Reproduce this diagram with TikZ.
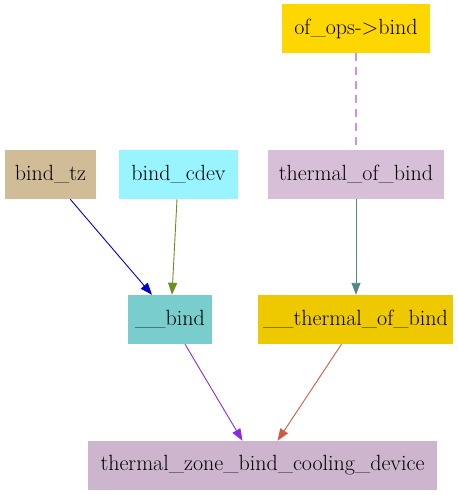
\documentclass[tikz,border=0pt]{standalone}
\usetikzlibrary{arrows.meta}
\definecolor{ctan}{HTML}{D0BC96}
\definecolor{ccdev}{HTML}{98F5FF}
\definecolor{cthistle}{HTML}{D8BFD8}
\definecolor{cgold}{HTML}{FFD700}
\definecolor{cbind}{HTML}{79CDCD}
\definecolor{cgoldii}{HTML}{EEC900}
\definecolor{czone}{HTML}{CDB5CD}
\definecolor{eblue}{HTML}{0000CD}
\definecolor{eolive}{HTML}{6B8E23}
\definecolor{ecadet}{HTML}{53868B}
\definecolor{eorchid}{HTML}{D38EE8}
\definecolor{eviolet}{HTML}{8A2BE2}
\definecolor{ecoral}{HTML}{CD5B45}
\tikzset{
  box/.style={draw=none, inner sep=0pt, minimum height=49pt, font=\fontsize{22}{26}\selectfont, anchor=center},
  edge/.style={line width=0.9pt, -{Triangle[length=12pt,width=9pt]}},
}
\begin{document}
\begin{tikzpicture}[x=1pt,y=-1pt]
\useasboundingbox (0,0) rectangle (458,495);
\node[box, fill=cgold, minimum width=148pt] (ops) at (356,28.5) {of\_ops-\textgreater bind};
\node[box, fill=ctan, minimum width=91pt] (tz) at (50.5,174.5) {bind\_tz};
\node[box, fill=ccdev, minimum width=119pt] (cdev) at (178.5,174.5) {bind\_cdev};
\node[box, fill=cthistle, minimum width=176pt] (tob) at (356,174.5) {thermal\_of\_bind};
\node[box, fill=cbind, minimum width=84pt] (bind) at (170,319.5) {\_\_bind};
\node[box, fill=cgoldii, minimum width=195pt] (utob) at (355.5,319.5) {\_\_thermal\_of\_bind};
\node[box, fill=czone, minimum width=349pt] (zone) at (262.5,465.5) {thermal\_zone\_bind\_cooling\_device};
\draw[line width=1.2pt, eorchid, dash pattern=on 8pt off 6pt] (ops.south) -- (tob.north);
\draw[edge, eblue] (tz.south east) ++(-26,0) -- ([xshift=-18pt]bind.north);
\draw[edge, eolive] ([xshift=-1.5pt]cdev.south) -- ([xshift=2pt]bind.north);
\draw[edge, ecadet] (tob.south) -- (utob.north -| tob.south);
\draw[edge, eviolet] ([xshift=15pt]bind.south) -- ([xshift=-20pt]zone.north);
\draw[edge, ecoral] ([xshift=-14pt]utob.south) -- ([xshift=15pt]zone.north);
\end{tikzpicture}
\end{document}
